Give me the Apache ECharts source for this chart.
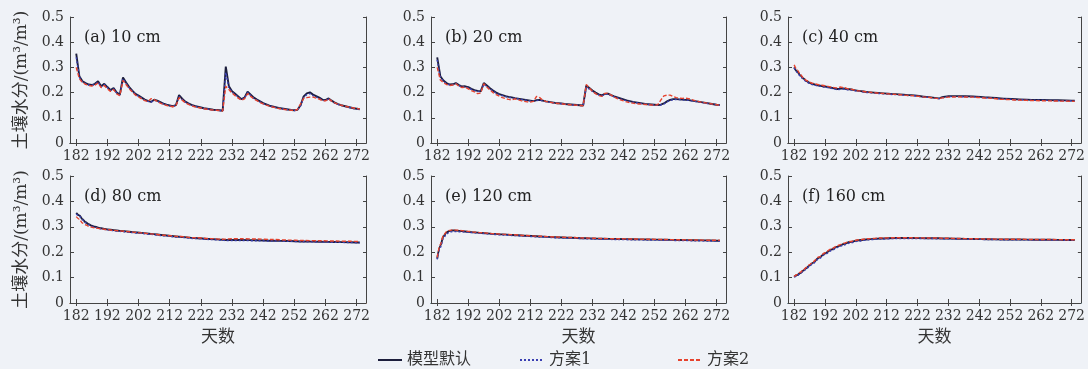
<!DOCTYPE html>
<html><head><meta charset="utf-8">
<script src="https://cdn.jsdelivr.net/npm/echarts@6/dist/echarts.min.js"></script>
<style>html,body{margin:0;padding:0;background:#eff2f7;}#c{width:1088px;height:369px;}</style>
</head><body><div id="c"></div>
<script>
const seriesNames = ['模型默认', '方案1', '方案2'];
const xTicks = [182, 192, 202, 212, 222, 232, 242, 252, 262, 272];
const yTicks = [0, 0.1, 0.2, 0.3, 0.4, 0.5];
const panelLabels = ['(a) 10 cm', '(b) 20 cm', '(c) 40 cm', '(d) 80 cm', '(e) 120 cm', '(f) 160 cm'];
const yName = '土壤水分/(m³/m³)';
const xName = '天数';

const daysDaily = [182,183,184,185,186,187,188,189,190,191,192,193,194,195,196,197,198,199,200,201,202,203,204,205,206,207,208,209,210,211,212,213,214,215,216,217,218,219,220,221,222,223,224,225,226,227,228,229,230,231,232,233,234,235,236,237,238,239,240,241,242,243,244,245,246,247,248,249,250,251,252,253,254,255,256,257,258,259,260,261,262,263,264,265,266,267,268,269,270,271,272,273];
const daysSparse = [182,183,184,185,186,187,188,190,192,194,196,197,198,200,203,206,210,215,220,225,229,230,232,235,240,245,250,255,260,265,270,273];

// (a) 10 cm
const aDefault = [0.355,0.265,0.245,0.238,0.232,0.230,0.235,0.245,0.225,0.235,
0.222,0.210,0.218,0.200,0.192,0.260,0.240,0.222,0.208,0.195,
0.188,0.180,0.172,0.167,0.163,0.172,0.168,0.162,0.156,0.152,
0.149,0.146,0.150,0.190,0.176,0.164,0.157,0.151,0.147,0.144,
0.141,0.138,0.136,0.134,0.132,0.131,0.130,0.128,0.303,0.225,
0.205,0.195,0.185,0.174,0.180,0.204,0.192,0.180,0.172,0.165,
0.158,0.153,0.148,0.145,0.142,0.139,0.137,0.135,0.133,0.131,
0.130,0.132,0.150,0.185,0.197,0.201,0.192,0.186,0.180,0.172,
0.170,0.177,0.168,0.160,0.154,0.150,0.147,0.144,0.141,0.138,0.136,0.134];
const aPlan1 = [0.340,0.262,0.243,0.236,0.230,0.229,0.233,0.242,0.223,0.232,
0.220,0.208,0.215,0.198,0.190,0.255,0.236,0.219,0.206,0.193,
0.186,0.178,0.170,0.165,0.162,0.170,0.166,0.160,0.155,0.151,
0.148,0.145,0.149,0.185,0.172,0.162,0.155,0.150,0.146,0.143,
0.140,0.137,0.135,0.133,0.131,0.130,0.129,0.127,0.280,0.220,
0.202,0.192,0.182,0.172,0.178,0.200,0.188,0.177,0.170,0.163,
0.156,0.151,0.147,0.144,0.141,0.138,0.136,0.134,0.132,0.130,
0.129,0.131,0.147,0.180,0.192,0.196,0.188,0.182,0.177,0.170,
0.168,0.174,0.166,0.158,0.153,0.149,0.146,0.143,0.140,0.137,0.135,0.133];
const aPlan2 = [0.300,0.255,0.240,0.233,0.228,0.226,0.230,0.238,0.220,0.228,
0.215,0.205,0.212,0.195,0.188,0.248,0.232,0.215,0.203,0.190,
0.183,0.175,0.168,0.164,0.176,0.172,0.165,0.158,0.153,0.149,
0.146,0.144,0.148,0.180,0.170,0.160,0.153,0.148,0.144,0.141,
0.139,0.136,0.134,0.132,0.131,0.130,0.129,0.127,0.225,0.212,
0.198,0.188,0.178,0.170,0.175,0.196,0.185,0.175,0.168,0.161,
0.155,0.150,0.146,0.143,0.140,0.137,0.135,0.133,0.131,0.130,
0.129,0.133,0.155,0.177,0.180,0.182,0.182,0.178,0.174,0.168,
0.167,0.175,0.166,0.159,0.154,0.150,0.147,0.144,0.141,0.139,0.137,0.135];

// (b) 20 cm
const bDefault = [0.340,0.265,0.248,0.238,0.232,0.233,0.238,0.230,0.224,0.225,
0.222,0.215,0.210,0.207,0.205,0.238,0.228,0.217,0.208,0.200,
0.194,0.190,0.186,0.183,0.181,0.178,0.176,0.174,0.172,0.170,
0.168,0.166,0.170,0.171,0.168,0.165,0.163,0.161,0.159,0.158,
0.157,0.155,0.154,0.153,0.152,0.151,0.150,0.149,0.228,0.218,
0.208,0.200,0.193,0.189,0.195,0.196,0.190,0.185,0.181,0.177,
0.173,0.169,0.166,0.163,0.161,0.159,0.157,0.155,0.154,0.153,
0.152,0.151,0.152,0.157,0.165,0.171,0.174,0.174,0.173,0.172,
0.171,0.170,0.168,0.166,0.164,0.162,0.160,0.158,0.156,0.154,0.152,0.151];
const bPlan1 = [0.330,0.262,0.245,0.236,0.231,0.232,0.236,0.228,0.222,0.223,
0.220,0.213,0.208,0.205,0.203,0.233,0.225,0.214,0.206,0.198,
0.192,0.188,0.184,0.181,0.179,0.177,0.175,0.173,0.171,0.169,
0.167,0.165,0.168,0.170,0.167,0.164,0.162,0.160,0.158,0.157,
0.156,0.154,0.153,0.152,0.151,0.150,0.149,0.148,0.222,0.214,
0.205,0.197,0.191,0.187,0.193,0.194,0.188,0.183,0.179,0.175,
0.171,0.168,0.165,0.162,0.160,0.158,0.156,0.154,0.153,0.152,
0.151,0.150,0.151,0.155,0.163,0.169,0.172,0.173,0.172,0.171,
0.170,0.169,0.167,0.165,0.163,0.161,0.159,0.157,0.155,0.153,0.152,0.150];
const bPlan2 = [0.300,0.250,0.240,0.232,0.228,0.230,0.235,0.225,0.220,0.222,
0.215,0.208,0.203,0.196,0.198,0.235,0.222,0.210,0.200,0.192,
0.186,0.180,0.176,0.173,0.171,0.175,0.172,0.168,0.165,0.163,
0.162,0.165,0.185,0.180,0.170,0.165,0.162,0.160,0.158,0.157,
0.156,0.154,0.153,0.152,0.151,0.150,0.149,0.148,0.232,0.218,
0.205,0.196,0.188,0.185,0.197,0.198,0.190,0.182,0.176,0.171,
0.167,0.163,0.160,0.158,0.156,0.155,0.154,0.153,0.152,0.151,
0.150,0.152,0.170,0.187,0.190,0.190,0.184,0.180,0.178,0.177,
0.178,0.176,0.172,0.168,0.165,0.162,0.160,0.158,0.156,0.154,0.152,0.150];

// (c) 40 cm
const cDefault = [0.300,0.283,0.268,0.256,0.246,0.239,0.234,0.228,0.224,0.219,0.214,0.216,0.216,0.213,0.207,0.202,0.198,0.194,0.190,0.183,0.177,0.182,0.186,0.186,0.185,0.181,0.176,0.173,0.171,0.170,0.169,0.168];
const cPlan1 = [0.298,0.280,0.265,0.253,0.243,0.236,0.231,0.226,0.222,0.217,0.212,0.213,0.214,0.211,0.205,0.200,0.196,0.192,0.188,0.182,0.176,0.180,0.184,0.184,0.183,0.179,0.175,0.172,0.170,0.169,0.168,0.167];
const cPlan2 = [0.310,0.290,0.272,0.258,0.248,0.241,0.237,0.231,0.227,0.222,0.218,0.222,0.220,0.214,0.207,0.202,0.197,0.193,0.188,0.182,0.176,0.179,0.182,0.183,0.182,0.178,0.173,0.170,0.168,0.167,0.166,0.165];

// (d) 80 cm
const dDefault = [0.355,0.345,0.330,0.318,0.310,0.304,0.300,0.294,0.290,0.287,0.284,0.283,0.282,0.279,0.276,0.272,0.267,0.261,0.256,0.252,0.249,0.248,0.248,0.248,0.247,0.245,0.244,0.242,0.241,0.240,0.239,0.238];
const dPlan1 = [0.350,0.342,0.328,0.316,0.308,0.302,0.298,0.292,0.288,0.285,0.282,0.281,0.280,0.277,0.274,0.270,0.265,0.259,0.254,0.250,0.247,0.246,0.246,0.246,0.245,0.244,0.243,0.241,0.240,0.239,0.238,0.237];
const dPlan2 = [0.340,0.330,0.315,0.308,0.302,0.298,0.296,0.292,0.289,0.286,0.284,0.283,0.282,0.279,0.276,0.272,0.267,0.262,0.257,0.254,0.251,0.252,0.253,0.253,0.252,0.250,0.248,0.246,0.245,0.244,0.243,0.242];

// (e) 120 cm
const eDefault = [0.175,0.225,0.262,0.278,0.284,0.286,0.285,0.283,0.280,0.278,0.276,0.275,0.274,0.272,0.270,0.268,0.265,0.262,0.259,0.257,0.255,0.255,0.254,0.253,0.252,0.251,0.250,0.249,0.248,0.247,0.246,0.245];
const ePlan1 = [0.172,0.218,0.255,0.272,0.279,0.281,0.281,0.280,0.278,0.276,0.274,0.273,0.272,0.270,0.268,0.266,0.263,0.260,0.257,0.255,0.254,0.253,0.252,0.251,0.250,0.249,0.248,0.247,0.246,0.245,0.244,0.243];
const ePlan2 = [0.180,0.230,0.266,0.281,0.286,0.288,0.287,0.285,0.282,0.279,0.277,0.276,0.275,0.273,0.271,0.269,0.266,0.263,0.260,0.258,0.256,0.256,0.255,0.254,0.253,0.252,0.251,0.250,0.249,0.248,0.247,0.247];

// (f) 160 cm
const fDefault = [0.103,0.110,0.118,0.128,0.138,0.148,0.158,0.178,0.195,0.210,0.222,0.227,0.232,0.240,0.247,0.251,0.254,0.256,0.256,0.255,0.255,0.254,0.254,0.253,0.252,0.251,0.250,0.250,0.249,0.249,0.248,0.248];
const fPlan1 = [0.102,0.108,0.116,0.125,0.135,0.145,0.155,0.174,0.191,0.206,0.218,0.223,0.228,0.236,0.244,0.249,0.252,0.254,0.254,0.254,0.253,0.253,0.253,0.252,0.251,0.250,0.249,0.249,0.248,0.248,0.247,0.247];
const fPlan2 = [0.104,0.112,0.121,0.131,0.141,0.151,0.161,0.181,0.198,0.213,0.225,0.230,0.235,0.242,0.249,0.253,0.256,0.257,0.257,0.256,0.256,0.255,0.255,0.254,0.253,0.252,0.251,0.251,0.250,0.250,0.249,0.249];

const panels = [
  { days: daysDaily, data: [aDefault, aPlan1, aPlan2] },
  { days: daysDaily, data: [bDefault, bPlan1, bPlan2] },
  { days: daysSparse, data: [cDefault, cPlan1, cPlan2] },
  { days: daysSparse, data: [dDefault, dPlan1, dPlan2] },
  { days: daysSparse, data: [eDefault, ePlan1, ePlan2] },
  { days: daysSparse, data: [fDefault, fPlan1, fPlan2] }
];

const gridBoxes = [
  { left: 70, top: 17, width: 296, height: 126 },
  { left: 431, top: 17, width: 295, height: 126 },
  { left: 788, top: 17, width: 294, height: 126 },
  { left: 70, top: 176, width: 296, height: 127 },
  { left: 431, top: 176, width: 295, height: 127 },
  { left: 788, top: 176, width: 294, height: 127 }
];
const bottomAxisColors = ['#444', '#444', '#444', '#d98a55', '#5bb8d6', '#5bb8d6'];

const serif = '"DejaVu Serif", "Noto Sans CJK SC", serif';
const lineColors = ['#1c1e3c', '#3a3fb2', '#e6432e'];
const lineTypes = ['solid', [2, 2], [4, 2]];
const lineWidths = [1.9, 1.4, 1.4];

const grid = [], xAxis = [], yAxis = [], series = [], title = [];
panels.forEach((p, i) => {
  grid.push(Object.assign({ containLabel: false }, gridBoxes[i]));
  const axLine = { show: true, lineStyle: { color: '#444', width: 1 } };
  xAxis.push({
    gridIndex: i, type: 'value', min: 180, max: 275, position: 'bottom',
    axisLine: { show: true, onZero: false, lineStyle: { color: bottomAxisColors[i], width: 1.2 } },
    axisTick: { inside: true, length: 4, customValues: xTicks, lineStyle: { color: '#444' } },
    axisLabel: { customValues: xTicks, margin: 6, fontFamily: serif, fontSize: 14, color: '#333' },
    splitLine: { show: false },
    name: i >= 3 ? xName : '', nameLocation: 'middle', nameGap: 26,
    nameTextStyle: { fontFamily: serif, fontSize: 17, color: '#333' }
  });
  xAxis.push({
    gridIndex: i, type: 'value', min: 180, max: 275, position: 'top',
    axisLine: axLine,
    axisTick: { inside: true, length: 3, customValues: xTicks, lineStyle: { color: '#444' } },
    axisLabel: { show: false }, splitLine: { show: false }
  });
  yAxis.push({
    gridIndex: i, type: 'value', min: 0, max: 0.5, interval: 0.1, position: 'left',
    axisLine: axLine,
    axisTick: { inside: true, length: 4, lineStyle: { color: '#444' } },
    axisLabel: { margin: 6, fontFamily: serif, fontSize: 14, color: '#333',
      formatter: v => (v === 0 ? '0' : v.toFixed(1)) },
    splitLine: { show: false },
    name: (i % 3 === 0) ? yName : '', nameLocation: 'middle', nameGap: 40, nameRotate: 90,
    nameTextStyle: { fontFamily: serif, fontSize: 17, color: '#333' }
  });
  yAxis.push({
    gridIndex: i, type: 'value', min: 0, max: 0.5, interval: 0.1, position: 'right',
    axisLine: axLine,
    axisTick: { inside: true, length: 3, lineStyle: { color: '#444' } },
    axisLabel: { show: false }, splitLine: { show: false }
  });
  title.push({
    text: panelLabels[i], left: gridBoxes[i].left + 9, top: gridBoxes[i].top + 8,
    textStyle: { fontFamily: serif, fontSize: 16, fontWeight: 'normal', color: '#222' }
  });
  p.data.forEach((vals, s) => {
    series.push({
      name: seriesNames[s], type: 'line', xAxisIndex: 2 * i, yAxisIndex: 2 * i,
      data: p.days.map((d, k) => [d, vals[k]]),
      showSymbol: false, symbol: 'none', smooth: p.days === daysSparse ? 0.3 : false,
      smoothMonotone: 'x',
      lineStyle: { color: lineColors[s], width: lineWidths[s], type: lineTypes[s] },
      itemStyle: { color: lineColors[s] },
      z: 2 + s, animation: false
    });
  });
});

const legendBase = {
  top: 347, itemWidth: 24, itemHeight: 12, itemGap: 0,
  itemStyle: { opacity: 0 },
  textStyle: { fontFamily: serif, fontSize: 16, color: '#333' }
};
const legend = [
  Object.assign({}, legendBase, { left: 372, data: [seriesNames[0]] }),
  Object.assign({}, legendBase, { left: 514, data: [seriesNames[1]] }),
  Object.assign({}, legendBase, { left: 672, data: [seriesNames[2]] })
];

const chart = echarts.init(document.getElementById('c'), null, { renderer: 'canvas' });
chart.setOption({
  backgroundColor: '#eff2f7',
  animation: false,
  title, legend, grid, xAxis, yAxis, series
});
</script></body></html>
